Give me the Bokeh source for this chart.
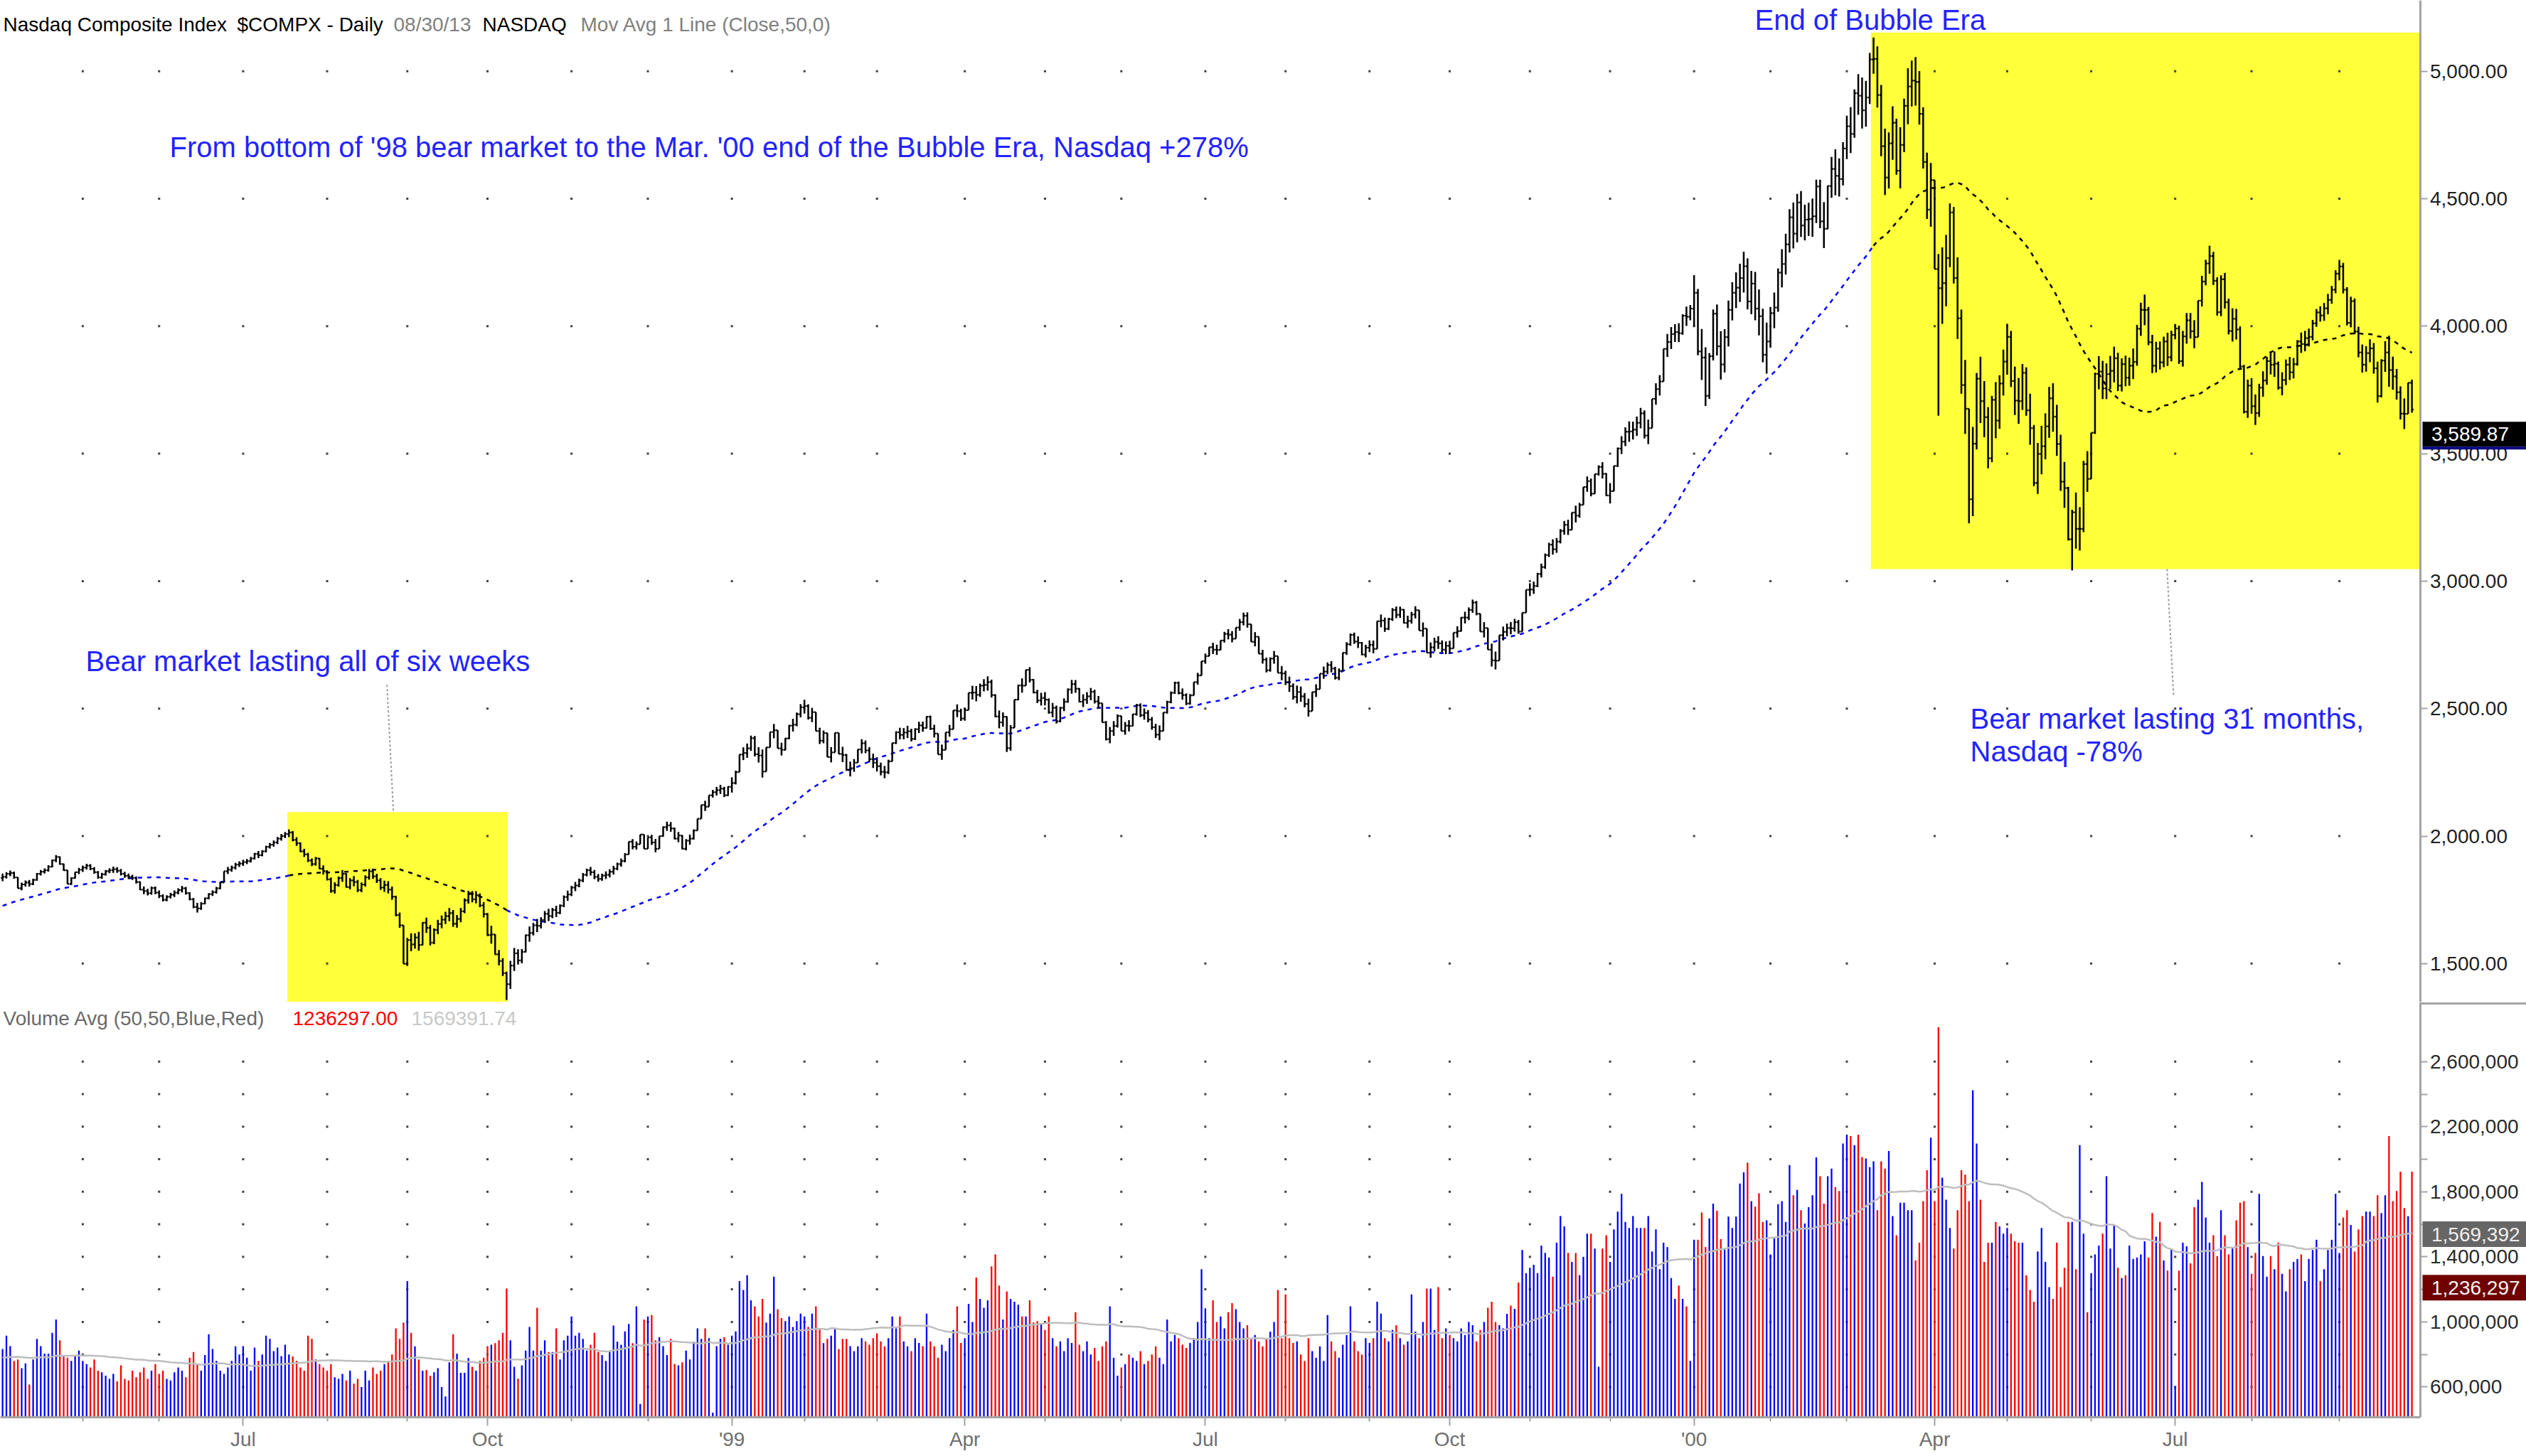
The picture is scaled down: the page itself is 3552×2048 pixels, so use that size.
import numpy as np
import pandas as pd
from bokeh.plotting import figure
from bokeh.layouts import column
from bokeh.models import Range1d, FixedTicker, NumeralTickFormatter, Label, BoxAnnotation
from bokeh.embed import file_html
from bokeh.resources import INLINE

# ------------------------------------------------------------------ data
market_holidays = [
    "1998-04-10", "1998-05-25", "1998-07-03", "1998-09-07", "1998-11-26", "1998-12-25",
    "1999-01-01", "1999-01-18", "1999-02-15", "1999-04-02", "1999-05-31", "1999-07-05",
    "1999-09-06", "1999-11-25", "1999-12-24", "2000-01-17", "2000-02-21", "2000-04-21",
    "2000-05-29", "2000-07-04", "2000-09-04",
]
first_day, last_day = "1998-04-01", "2000-09-29"

# 49 sessions before the first bar (for the 50-day averages)
pre_close = [1588, 1590, 1576, 1580, 1598, 1614, 1620, 1619,
             1636, 1648, 1660, 1667, 1681, 1690, 1693, 1700, 1704, 1713, 1718, 1722, 1728, 1731, 1726, 1740, 1760, 1771, 1770,
             1775, 1765, 1769, 1741, 1755, 1751, 1768, 1775, 1782, 1768, 1754, 1756, 1770, 1788, 1794, 1801, 1813, 1811, 1804, 1826, 1833, 1836]
pre_volume = [820, 760, 790, 700, 810, 850, 760, 740,
              780, 800, 760, 830, 770, 720, 800, 860, 790, 740, 760, 820, 780, 700, 750, 810, 770, 730, 790,
              800, 760, 740, 820, 790, 760, 850, 780, 720, 760, 810, 800, 770, 740, 790, 830, 780, 760, 800, 740, 790, 820]

# daily closes, one inner list per month
close_1998 = [
    [1840, 1852, 1855, 1838, 1795, 1810, 1818, 1812, 1828, 1852, 1860, 1866, 1880, 1905, 1918, 1890, 1866, 1812, 1835, 1858, 1868],
    [1876, 1884, 1872, 1858, 1838, 1850, 1862, 1866, 1870, 1864, 1852, 1844, 1840, 1836, 1820, 1790, 1784, 1776, 1796, 1778],
    [1765, 1750, 1762, 1770, 1778, 1788, 1795, 1776, 1752, 1722, 1716, 1735, 1756, 1772, 1780, 1795, 1818, 1862, 1868, 1876, 1888, 1892],
    [1898, 1902, 1912, 1930, 1925, 1940, 1958, 1966, 1975, 1990, 2000, 2008, 2014, 1985, 1972, 1940, 1928, 1904, 1890, 1912, 1872, 1862],
    [1830, 1785, 1808, 1835, 1852, 1800, 1826, 1820, 1788, 1810, 1838, 1862, 1842, 1826, 1798, 1808, 1790, 1762, 1690, 1650, 1499],
    [1592, 1575, 1602, 1573, 1660, 1640, 1582, 1632, 1655, 1672, 1686, 1698, 1656, 1675, 1705, 1748, 1772, 1752, 1768, 1728, 1694],
    [1612, 1614, 1536, 1510, 1462, 1419, 1492, 1540, 1512, 1546, 1611, 1620, 1650, 1648, 1671, 1695, 1686, 1710, 1699, 1727, 1761, 1771],
    [1798, 1806, 1826, 1848, 1866, 1858, 1840, 1832, 1845, 1848, 1860, 1872, 1890, 1902, 1928, 1978, 1958, 1968, 2006, 1950],
    [1995, 1975, 1950, 2000, 2035, 2042, 2030, 1990, 2002, 1950, 1982, 1990, 2022, 2068, 2122, 2115, 2160, 2172, 2180, 2186, 2160, 2193],
]
close_1999 = [
    [2208, 2251, 2320, 2326, 2344, 2384, 2321, 2316, 2253, 2348, 2408, 2415, 2344, 2338, 2383, 2433, 2437, 2478, 2505],
    [2510, 2464, 2486, 2412, 2374, 2404, 2310, 2328, 2405, 2322, 2318, 2260, 2266, 2288, 2340, 2364, 2336, 2302, 2288],
    [2274, 2252, 2250, 2293, 2365, 2407, 2397, 2406, 2411, 2381, 2419, 2434, 2424, 2468, 2421, 2402, 2320, 2338, 2407, 2419, 2493, 2490, 2461],
    [2494, 2562, 2563, 2554, 2590, 2593, 2604, 2553, 2469, 2446, 2468, 2345, 2425, 2535, 2591, 2590, 2652, 2613, 2563, 2532, 2542],
    [2535, 2485, 2503, 2450, 2503, 2527, 2575, 2596, 2578, 2527, 2535, 2548, 2566, 2528, 2521, 2446, 2380, 2412, 2432, 2471],
    [2412, 2433, 2432, 2478, 2513, 2474, 2483, 2457, 2427, 2398, 2412, 2485, 2526, 2562, 2601, 2561, 2553, 2520, 2552, 2604, 2630, 2686],
    [2706, 2741, 2731, 2730, 2767, 2793, 2790, 2774, 2818, 2839, 2864, 2831, 2762, 2782, 2715, 2692, 2650, 2696, 2706, 2640, 2638],
    [2603, 2588, 2546, 2565, 2548, 2518, 2490, 2565, 2576, 2637, 2645, 2671, 2657, 2621, 2648, 2719, 2752, 2789, 2763, 2758, 2712, 2739],
    [2750, 2734, 2843, 2845, 2813, 2851, 2887, 2868, 2888, 2836, 2844, 2869, 2886, 2806, 2814, 2719, 2740, 2762, 2756, 2731, 2746],
    [2736, 2798, 2804, 2857, 2857, 2887, 2916, 2872, 2802, 2816, 2731, 2689, 2688, 2788, 2801, 2816, 2815, 2839, 2802, 2876, 2966],
    [2967, 2981, 3028, 3055, 3102, 3143, 3125, 3155, 3197, 3221, 3201, 3269, 3257, 3299, 3369, 3392, 3343, 3420, 3448, 3421, 3336],
    [3353, 3452, 3520, 3547, 3586, 3587, 3594, 3621, 3658, 3571, 3600, 3715, 3753, 3783, 3911, 3938, 3969, 3977, 3972, 4041, 4037, 4069],
]
close_2000 = [
    [4131, 3901, 3877, 3727, 3882, 4049, 3921, 3850, 3957, 4064, 4131, 4151, 4189, 4235, 4097, 4167, 4069, 4039, 3888, 3940],
    [4051, 4073, 4210, 4244, 4321, 4427, 4363, 4485, 4395, 4418, 4420, 4431, 4548, 4411, 4382, 4550, 4617, 4590, 4577, 4697],
    [4784, 4754, 4914, 4904, 4847, 4897, 5046, 5048, 4907, 4706, 4583, 4717, 4798, 4610, 4711, 4864, 4940, 4963, 4958, 4833, 4644, 4457, 4573],
    [4224, 4149, 4169, 4267, 4446, 4189, 4031, 3769, 3676, 3321, 3539, 3794, 3706, 3643, 3482, 3711, 3630, 3775, 3861],
    [3958, 3785, 3708, 3706, 3817, 3670, 3600, 3385, 3499, 3529, 3607, 3717, 3645, 3538, 3390, 3365, 3164, 3270, 3205, 3205, 3459, 3401],
    [3582, 3813, 3822, 3756, 3812, 3825, 3874, 3767, 3851, 3798, 3845, 3860, 3990, 4064, 4064, 3937, 3845, 3912, 3858, 3940, 3878, 3966],
    [3991, 3863, 3960, 4023, 3980, 3957, 4100, 4175, 4246, 4275, 4178, 4055, 4184, 4094, 3981, 4029, 3987, 3842, 3664, 3767],
    [3686, 3659, 3759, 3787, 3863, 3849, 3853, 3759, 3789, 3849, 3819, 3851, 3940, 3930, 3953, 3958, 4011, 4054, 4042, 4070, 4103, 4143, 4206],
    [4234, 4143, 4013, 4098, 3979, 3897, 3849, 3894, 3913, 3835, 3726, 3865, 3897, 3828, 3803, 3741, 3657, 3656, 3778, 3673],
]

# daily high-low range (index points)
range_1998 = [
    [30, 25, 22, 28, 35, 30, 24, 26, 25, 30, 22, 20, 25, 30, 28, 32, 28, 40, 30, 26, 24],
    [25, 22, 24, 26, 30, 24, 22, 20, 24, 22, 26, 24, 22, 20, 28, 34, 30, 26, 32, 30],
    [30, 28, 24, 22, 26, 24, 26, 30, 32, 40, 38, 30, 26, 24, 22, 26, 30, 44, 28, 24, 26, 22],
    [24, 20, 22, 26, 28, 24, 26, 22, 24, 28, 26, 24, 30, 40, 34, 38, 32, 36, 30, 34, 44, 36],
    [40, 60, 44, 40, 46, 56, 44, 40, 48, 38, 44, 42, 40, 36, 46, 44, 48, 52, 80, 60, 150],
    [110, 70, 60, 74, 90, 60, 80, 62, 56, 50, 48, 52, 66, 50, 56, 58, 50, 44, 48, 54, 60],
    [90, 70, 80, 60, 70, 96, 110, 90, 60, 56, 70, 60, 50, 52, 44, 46, 48, 40, 44, 38, 46, 40],
    [40, 36, 34, 36, 30, 34, 36, 30, 28, 30, 32, 34, 30, 32, 36, 50, 40, 32, 28, 56],
    [44, 40, 52, 46, 40, 36, 38, 46, 40, 56, 44, 40, 40, 44, 50, 40, 44, 30, 34, 36, 40, 38],
]
range_1999 = [
    [60, 54, 60, 50, 56, 60, 80, 60, 110, 80, 60, 56, 70, 50, 48, 56, 50, 54, 52],
    [54, 60, 56, 70, 64, 50, 80, 60, 70, 80, 60, 66, 58, 50, 52, 56, 50, 60, 56],
    [56, 50, 48, 56, 60, 50, 46, 44, 48, 50, 46, 44, 40, 48, 56, 50, 70, 60, 58, 46, 60, 50, 48],
    [50, 56, 54, 60, 52, 48, 56, 70, 90, 70, 56, 150, 100, 90, 60, 56, 60, 60, 56, 52, 50],
    [52, 60, 56, 70, 60, 50, 56, 54, 50, 56, 50, 46, 48, 54, 50, 60, 76, 64, 58, 52],
    [56, 50, 44, 48, 46, 54, 44, 48, 50, 56, 58, 56, 50, 46, 48, 50, 44, 46, 42, 48, 46, 54],
    [40, 36, 44, 40, 38, 42, 40, 44, 40, 46, 50, 60, 66, 56, 60, 54, 58, 56, 50, 60, 56],
    [56, 60, 64, 70, 60, 56, 70, 64, 50, 58, 48, 46, 44, 50, 46, 54, 50, 48, 44, 46, 52, 50],
    [46, 50, 60, 50, 56, 48, 50, 46, 44, 56, 48, 46, 48, 70, 56, 80, 60, 54, 50, 48, 50],
    [50, 48, 44, 56, 46, 50, 52, 56, 70, 60, 80, 90, 70, 60, 54, 50, 48, 50, 54, 56, 60],
    [50, 48, 56, 54, 60, 56, 60, 58, 56, 54, 60, 62, 66, 58, 64, 60, 70, 58, 40, 64, 90],
    [80, 90, 76, 70, 74, 80, 70, 76, 80, 110, 96, 90, 84, 80, 110, 90, 86, 70, 74, 80, 76, 60],
]
range_2000 = [
    [200, 260, 200, 230, 180, 200, 200, 190, 170, 180, 150, 140, 150, 160, 200, 170, 190, 180, 210, 200],
    [160, 140, 170, 150, 160, 170, 180, 190, 180, 140, 130, 150, 170, 190, 180, 170, 160, 180, 150, 170],
    [170, 180, 190, 160, 200, 180, 200, 230, 240, 280, 260, 220, 210, 220, 240, 210, 220, 180, 190, 210, 240, 260, 250],
    [280, 575, 300, 280, 250, 300, 320, 330, 290, 380, 350, 300, 260, 220, 240, 260, 220, 210, 180],
    [200, 220, 190, 180, 180, 190, 200, 240, 200, 190, 180, 200, 190, 200, 220, 180, 210, 200, 220, 170, 280, 160],
    [160, 240, 130, 150, 140, 130, 140, 150, 130, 120, 110, 120, 160, 130, 120, 150, 150, 120, 110, 120, 130, 120],
    [60, 150, 140, 120, 100, 110, 140, 120, 100, 110, 130, 150, 160, 140, 140, 130, 120, 170, 190, 150],
    [140, 120, 130, 100, 110, 90, 100, 110, 90, 100, 90, 80, 100, 80, 80, 70, 80, 70, 60, 70, 80, 70, 90],
    [80, 120, 150, 120, 140, 120, 110, 100, 90, 120, 160, 150, 120, 200, 130, 120, 130, 120, 110, 130],
]

# intraday extremes that stick out of the usual range
extreme_dates = ["1998-10-08", "1999-04-19", "2000-03-10", "2000-04-04", "2000-04-14", "2000-05-24"]
extreme_highs = [1468, 2470, 5132, 4283, 3676, 3280]
extreme_lows = [1357, 2330, 4990, 3649, 3227, 3042]

# daily volume (thousands)
volume_1998 = [
    [833, 915, 851, 760, 769, 715, 745, 615, 769, 896, 851, 805, 805, 933, 1015, 887, 787, 780, 760, 790, 824],
    [760, 740, 720, 769, 700, 690, 670, 650, 680, 635, 733, 650, 640, 700, 660, 690, 720, 650, 700, 740],
    [680, 700, 650, 640, 690, 720, 700, 660, 780, 815, 740, 700, 796, 924, 833, 760, 700, 680, 720, 760, 850, 800],
    [851, 780, 700, 842, 760, 800, 915, 896, 820, 842, 790, 860, 800, 787, 760, 720, 700, 915, 896, 769, 740, 720],
    [700, 740, 660, 650, 680, 640, 700, 620, 650, 600, 700, 640, 720, 680, 700, 740, 760, 800, 960, 896, 996],
    [1251, 933, 850, 769, 700, 705, 669, 690, 715, 600, 542, 751, 924, 805, 687, 687, 778, 724, 700, 760, 780],
    [851, 860, 869, 887, 933, 1205, 887, 724, 651, 733, 824, 969, 824, 1087, 824, 887, 815, 815, 960, 769, 887, 915],
    [1033, 915, 933, 896, 824, 860, 933, 815, 796, 760, 824, 978, 878, 860, 942, 987, 869, 1096, 496, 1015],
    [1033, 1042, 887, 905, 851, 796, 896, 742, 733, 751, 824, 769, 878, 960, 896, 960, 900, 442, 851, 896, 905, 860],
]
volume_1999 = [
    [915, 942, 1251, 1196, 1287, 1133, 1096, 1033, 1142, 996, 1051, 1278, 1078, 1024, 1005, 1033, 969, 1005, 1051],
    [1033, 969, 1051, 1096, 960, 869, 896, 915, 960, 833, 896, 896, 851, 820, 850, 900, 880, 860, 900],
    [930, 880, 850, 900, 1033, 960, 1033, 880, 850, 820, 900, 870, 851, 1051, 880, 850, 780, 860, 820, 900, 950, 1096, 870],
    [900, 1111, 1000, 1273, 1142, 1087, 1133, 1342, 1415, 1224, 1015, 1187, 1142, 1124, 1105, 1033, 1033, 1133, 996, 1005, 987],
    [950, 1033, 900, 850, 880, 820, 900, 870, 1060, 860, 820, 880, 800, 840, 760, 850, 880, 1096, 780, 669],
    [720, 740, 800, 780, 760, 820, 740, 760, 800, 850, 780, 740, 1015, 880, 920, 900, 860, 840, 870, 900, 1000, 1324],
    [1084, 900, 1133, 1000, 1033, 960, 1060, 1115, 1078, 1000, 960, 980, 900, 920, 880, 850, 900, 940, 1000, 1196, 900],
    [1169, 900, 870, 880, 800, 760, 900, 820, 780, 850, 760, 1042, 880, 820, 780, 860, 920, 1096, 880, 820, 800, 900],
    [870, 900, 1124, 1051, 900, 880, 950, 980, 900, 860, 880, 1169, 940, 900, 1000, 1205, 1205, 950, 1214, 900, 960],
    [920, 900, 880, 960, 920, 1000, 980, 880, 950, 1000, 1087, 1124, 1000, 980, 960, 1050, 1100, 1080, 1242, 1442, 1300],
    [1333, 1351, 1300, 1469, 1424, 1396, 1278, 1487, 1651, 1587, 1424, 1369, 1424, 1287, 1400, 1542, 1542, 1451, 724, 1451, 1533],
    [1369, 1569, 1678, 1787, 1615, 1578, 1651, 1578, 1578, 1578, 1651, 1433, 1569, 1324, 1487, 1460, 1269, 1142, 1224, 1142, 1096, 760],
]
volume_2000 = [
    [1505, 1505, 1673, 1460, 1636, 1727, 1684, 1509, 1445, 1647, 1578, 1647, 1851, 1920, 1978, 1742, 1709, 1791, 1615, 1624],
    [1415, 1515, 1724, 1742, 1615, 1964, 1778, 1811, 1687, 1605, 1705, 1778, 2011, 1896, 1727, 1896, 1942, 1829, 1805, 2096],
    [2151, 2142, 2087, 2151, 2014, 2005, 1951, 1987, 1687, 1987, 1942, 2051, 1651, 1533, 1733, 1733, 1687, 1687, 1378, 1487, 1742, 1933, 2133],
    [1742, 2811, 1887, 1751, 1578, 1451, 1687, 1933, 1905, 1742, 2424, 2096, 1751, 1369, 1487, 1487, 1615, 1587, 1542],
    [1578, 1542, 1496, 1487, 1487, 1287, 1196, 1124, 1433, 1578, 1369, 1214, 1142, 1487, 1214, 1333, 1615, 1615, 1324, 2087, 1542, 1060],
    [1300, 1415, 1469, 1542, 1896, 1451, 1596, 1333, 1269, 1287, 1469, 1387, 1396, 1415, 1496, 1396, 1669, 1524, 1615, 1378, 1315, 1451],
    [605, 1315, 1487, 1465, 1360, 1705, 1751, 1860, 1642, 1487, 1533, 1405, 1687, 1533, 1415, 1460, 1624, 1733, 1742, 1460],
    [1296, 1424, 1787, 1405, 1278, 1405, 1324, 1487, 1296, 1187, 1324, 1369, 1387, 1415, 1251, 1387, 1442, 1505, 1251, 1324, 1442, 1505, 1787],
    [1424, 1642, 1687, 1596, 1433, 1569, 1651, 1678, 1678, 1651, 1778, 1669, 1778, 2142, 1742, 1805, 1924, 1700, 1650, 1924],
]

price_ticks = [1500, 2000, 2500, 3000, 3500, 4000, 4500, 5000]
volume_ticks = [600000, 1000000, 1400000, 1800000, 2200000, 2600000]
volume_minor = [800000, 1200000, 1600000, 2000000, 2400000]
last_close_value = 3589.87
vol_avg_tag = 1569392
vol_last_tag = 1236297

# ------------------------------------------------------------------ build series
dates = pd.bdate_range(first_day, last_day)
dates = dates[~dates.isin(pd.to_datetime(market_holidays))]
periods = dates.to_period("M")
month_list = list(pd.unique(periods))
month_counts = [int((periods == m).sum()) for m in month_list]


def flatten(name, *years):
    months = [m for y in years for m in y]
    lens = [len(m) for m in months]
    if lens != month_counts:
        bad = [(str(p), a, b) for p, a, b in zip(month_list, lens, month_counts) if a != b]
        raise ValueError(f"{name}: month length mismatch {bad} {len(lens)} vs {len(month_counts)}")
    return np.array([v for m in months for v in m], dtype=float)


closes = flatten("close", close_1998, close_1999, close_2000)
ranges = flatten("range", range_1998, range_1999, range_2000)
volumes = flatten("volume", volume_1998, volume_1999, volume_2000) * 1000.0
n = len(closes)
x = np.arange(n, dtype=float)

opens = np.concatenate([[pre_close[-1]], closes[:-1]])
body_hi = np.maximum(opens, closes)
body_lo = np.minimum(opens, closes)
ext = np.maximum(0.0, ranges - (body_hi - body_lo)) / 2.0
highs = body_hi + ext
lows = body_lo - ext
for d, h, l in zip(extreme_dates, extreme_highs, extreme_lows):
    i = dates.get_loc(pd.Timestamp(d))
    highs[i] = max(h, body_hi[i])
    lows[i] = min(l, body_lo[i])

all_close = pd.Series(list(pre_close) + list(closes), dtype=float)
ma50 = all_close.rolling(50).mean().values[len(pre_close):]
all_vol = pd.Series([v * 1000.0 for v in pre_volume] + list(volumes), dtype=float)
vol_avg = all_vol.rolling(50).mean().values[len(pre_volume):]

prev = np.concatenate([[pre_close[-1]], closes[:-1]])
vol_colors = np.where(closes >= prev, "#0000FF", "#FF0000")

# month starts for ticks and dotted grid
is_start = np.r_[True, periods[1:] != periods[:-1]]
month_starts = [int(i) for i in np.flatnonzero(is_start) if i > 0]
major_ticks, minor_ticks, tick_labels = [], [], {}
for i in month_starts:
    d = dates[i]
    if d.month in (1, 4, 7, 10):
        major_ticks.append(i)
        tick_labels[i] = "'%02d" % (d.year % 100) if d.month == 1 else d.strftime("%b")
    else:
        minor_ticks.append(i)

# ------------------------------------------------------------------ geometry (reference pixels -> data)
PX_PER_BAR = 5.3692
PX_PER_POINT = 0.3586
PX_PER_SHARE = 0.0002288


def ref_x(px):
    return (px - 3.126) / PX_PER_BAR


def ref_price(py):
    return 5000 - (py - 99.7) / PX_PER_POINT


def price_px(v):
    return 99.7 + (5000 - v) * PX_PER_POINT


def ref_vol(py):
    return 600000 + (1950.4 - py) / PX_PER_SHARE


def vol_px(v):
    return 1950.4 - (v - 600000) * PX_PER_SHARE


FW = 3552
PRICE_H, VOL_H = 1409, 584
X0, X1 = ref_x(0), ref_x(3552)
AXIS_X = ref_x(3402.5)
TAG_L = ref_x(3406)
P_LO, P_HI = ref_price(1409), ref_price(0)
V_LO, V_HI = ref_vol(1993), ref_vol(1409)
FONT = "Liberation Sans"
BLUE_TXT = "#2323FF"
AXIS_GRAY = "#A4A4A4"


def style_right_axis(ax, label_color):
    ax.fixed_location = AXIS_X
    ax.major_label_text_font = FONT
    ax.major_label_text_font_size = "28px"
    ax.major_label_text_color = label_color
    ax.major_tick_out = 10
    ax.major_tick_in = 0
    ax.major_label_standoff = 4
    ax.axis_line_color = AXIS_GRAY
    ax.axis_line_width = 3
    ax.major_tick_line_color = AXIS_GRAY
    ax.major_tick_line_width = 2


def add_label(fig, xv, yv, text, color, size="28px", **kw):
    fig.add_layout(Label(x=xv, y=yv, text=text, text_color=color, text_font=FONT,
                         text_font_size=size, text_baseline="middle", text_align="left", **kw))


def add_tag(fig, to_data, top_px, bottom_px, text, fill, text_color, strip=None):
    fig.add_layout(BoxAnnotation(left=TAG_L, right=X1, top=to_data(top_px), bottom=to_data(bottom_px),
                                 fill_color=fill, fill_alpha=1.0, line_color=None))
    if strip is not None:
        fig.add_layout(BoxAnnotation(left=TAG_L, right=X1, top=to_data(bottom_px), bottom=to_data(bottom_px + 4),
                                     fill_color=strip, fill_alpha=1.0, line_color=None))
    add_label(fig, AXIS_X, to_data((top_px + bottom_px) / 2.0), text, text_color, x_offset=16)


# ------------------------------------------------------------------ price panel
p1 = figure(frame_width=FW, frame_height=PRICE_H, x_range=Range1d(X0, X1),
            y_range=Range1d(P_LO, P_HI), x_axis_location=None, y_axis_location="right",
            toolbar_location=None, output_backend="svg", min_border_left=0,
            min_border_right=0, min_border_top=0, min_border_bottom=0,
            outline_line_color=None, background_fill_color="white", border_fill_color="white")
p1.grid.visible = False

box_left = [74.6, 489.3]
box_right = [132.3, AXIS_X]
box_bottom = [P_LO - 200, ref_price(800)]
box_top = [ref_price(1141.7), ref_price(45.3)]
p1.quad(left=box_left, right=box_right, bottom=box_bottom, top=box_top,
        fill_color="#FFFF3A", line_color=None)

gx, gy = np.meshgrid(month_starts, price_ticks)
p1.scatter(gx.ravel(), gy.ravel(), marker="square", size=3, fill_color="#404040", line_color=None)

inside = ((x >= 75) & (x <= 132)) | (x >= 490)
edge = (x == 75) | (x == 132) | (x == 490)
ma_blue = np.where(~inside | edge, ma50, np.nan)
ma_black = np.where(inside, ma50, np.nan)
p1.line(x, ma_blue, line_color="#0000FF", line_width=2.5, line_dash="6 7")
p1.line(x, ma_black, line_color="#000000", line_width=2.5, line_dash="6 7")

p1.segment(x0=x, y0=lows, x1=x, y1=highs, line_color="black", line_width=2.5)
p1.segment(x0=x - 0.45, y0=opens, x1=x, y1=opens, line_color="black", line_width=2.3)
p1.segment(x0=x, y0=closes, x1=x + 0.45, y1=closes, line_color="black", line_width=2.3)

p1.segment(x0=[ref_x(543.7), ref_x(3046.8)], y0=[ref_price(962.8), ref_price(800)],
           x1=[ref_x(552.7), ref_x(3055.9)], y1=[ref_price(1141.7), ref_price(978.6)],
           line_color="#9A9A9A", line_width=2, line_dash="3 3")

p1.yaxis.ticker = FixedTicker(ticks=price_ticks)
p1.yaxis.formatter = NumeralTickFormatter(format="0,0.00")
style_right_axis(p1.yaxis[0], "#1E1E1E")
p1.yaxis.minor_tick_out = 0

hy = ref_price(34)
add_label(p1, ref_x(4), hy, "Nasdaq Composite Index", "#000000")
add_label(p1, ref_x(333), hy, "$COMPX - Daily", "#000000")
add_label(p1, ref_x(553), hy, "08/30/13", "#808080")
add_label(p1, ref_x(678), hy, "NASDAQ", "#000000")
add_label(p1, ref_x(816), hy, "Mov Avg 1 Line (Close,50,0)", "#808080")

add_label(p1, ref_x(238), ref_price(206),
          "From bottom of '98 bear market to the Mar. '00 end of the Bubble Era, Nasdaq +278%",
          BLUE_TXT, size="40px")
add_label(p1, ref_x(120), ref_price(929), "Bear market lasting all of six weeks", BLUE_TXT, size="40px")
add_label(p1, ref_x(2467), ref_price(27), "End of Bubble Era", BLUE_TXT, size="40px")
add_label(p1, ref_x(2770), ref_price(1010), "Bear market lasting 31 months,", BLUE_TXT, size="40px")
add_label(p1, ref_x(2770), ref_price(1056), "Nasdaq -78%", BLUE_TXT, size="40px")

cy = price_px(last_close_value)
add_tag(p1, ref_price, cy - 12.7, cy + 22.3, "{:,.2f}".format(last_close_value),
        "#000000", "#FFFFFF", strip="#000080")

# ------------------------------------------------------------------ volume panel
p2 = figure(frame_width=FW, frame_height=VOL_H, x_range=p1.x_range,
            y_range=Range1d(V_LO, V_HI), x_axis_location="below", y_axis_location="right",
            toolbar_location=None, output_backend="svg", min_border_left=0,
            min_border_right=0, min_border_top=0, min_border_bottom=0,
            outline_line_color=None, background_fill_color="white", border_fill_color="white")
p2.grid.visible = False

vgx, vgy = np.meshgrid(month_starts, sorted(volume_ticks + volume_minor))
p2.scatter(vgx.ravel(), vgy.ravel(), marker="square", size=3, fill_color="#404040", line_color=None)

p2.vbar(x=x, top=volumes, bottom=V_LO, width=0.43, fill_color=vol_colors, line_color=None)
p2.line(x, vol_avg, line_color="#BEBEBE", line_width=2.5)

# panel separator in the scale column
p2.segment(x0=[AXIS_X], y0=[ref_vol(1411)], x1=[X1], y1=[ref_vol(1411)],
           line_color=AXIS_GRAY, line_width=3)

p2.yaxis.ticker = FixedTicker(ticks=volume_ticks, minor_ticks=volume_minor)
p2.yaxis.formatter = NumeralTickFormatter(format="0,0")
style_right_axis(p2.yaxis[0], "#2A2A2A")
p2.yaxis.minor_tick_out = 10
p2.yaxis.minor_tick_in = 0
p2.yaxis.minor_tick_line_color = AXIS_GRAY
p2.yaxis.minor_tick_line_width = 2

p2.xaxis.ticker = FixedTicker(ticks=major_ticks, minor_ticks=minor_ticks)
p2.xaxis.major_label_overrides = tick_labels
p2.xaxis.bounds = (X0, AXIS_X)
p2.xaxis.major_label_text_font = FONT
p2.xaxis.major_label_text_font_size = "28px"
p2.xaxis.major_label_text_color = "#6E6E6E"
p2.xaxis.major_tick_out = 12
p2.xaxis.major_tick_in = 0
p2.xaxis.minor_tick_out = 6
p2.xaxis.minor_tick_in = 0
p2.xaxis.major_label_standoff = 3
p2.xaxis.axis_line_color = AXIS_GRAY
p2.xaxis.axis_line_width = 3
p2.xaxis.major_tick_line_color = AXIS_GRAY
p2.xaxis.minor_tick_line_color = AXIS_GRAY
p2.xaxis.major_tick_line_width = 2
p2.xaxis.minor_tick_line_width = 2

vy = ref_vol(1432)
add_label(p2, ref_x(4), vy, "Volume Avg (50,50,Blue,Red)", "#6A6A6A")
add_label(p2, ref_x(411), vy, "1236297.00", "#FF0000")
add_label(p2, ref_x(578), vy, "1569391.74", "#C8C8C8")

ay = vol_px(vol_avg_tag)
add_tag(p2, ref_vol, ay - 11, ay + 25, "{:,}".format(vol_avg_tag), "#666666", "#EEEEEE")
ly = vol_px(vol_last_tag)
add_tag(p2, ref_vol, ly - 12, ly + 24, "{:,}".format(vol_last_tag), "#700000", "#F4F4F4")

layout = column(p1, p2, spacing=0)
open("out.html", "w").write(file_html(layout, INLINE))
